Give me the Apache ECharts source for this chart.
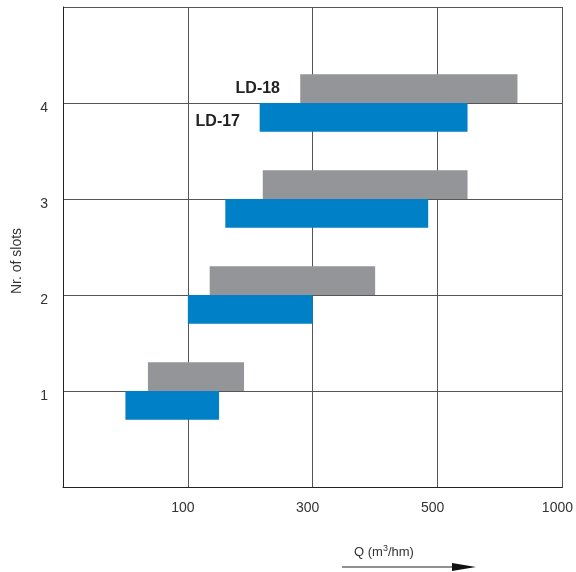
<!DOCTYPE html>
<html>
<head>
<meta charset="utf-8">
<script src="https://cdn.jsdelivr.net/npm/echarts@6/dist/echarts.min.js"></script>
<style>html,body{margin:0;padding:0;background:#fff}#c{width:576px;height:572px}</style>
</head>
<body>
<div id="c"></div>
<script>
// Data (Q in m3/hm)
const slots = [1, 2, 3, 4];
const ld17Start = [50, 100, 160, 215];
const ld17End = [150, 300, 485, 620];
const ld18Start = [68, 135, 220, 280];
const ld18End = [190, 400, 620, 820];
const qTicks = [0, 100, 300, 500, 1000];
const qTickLabels = ['', '100', '300', '500', '1000'];

// Q -> axis position (axis is evenly spaced between tick values)
function qToPos(q) {
  for (let i = 0; i < qTicks.length - 1; i++) {
    if (q <= qTicks[i + 1]) return i + (q - qTicks[i]) / (qTicks[i + 1] - qTicks[i]);
  }
  return qTicks.length - 1;
}

const BAR_H = 0.3;
const blue = '#0080c6', gray = '#939598';

function makeSeries(name, starts, ends, color, above) {
  return {
    type: 'custom', name: name, z: 5,
    encode: { x: [0, 1], y: 2 },
    data: slots.map((s, i) => [qToPos(starts[i]), qToPos(ends[i]), s]),
    renderItem: function (params, api) {
      const y0 = api.value(2), y1 = above ? y0 + BAR_H : y0 - BAR_H;
      const p0 = api.coord([api.value(0), Math.max(y0, y1)]);
      const p1 = api.coord([api.value(1), Math.min(y0, y1)]);
      return { type: 'rect', shape: { x: p0[0], y: p0[1], width: p1[0] - p0[0], height: p1[1] - p0[1] }, style: { fill: color } };
    }
  };
}

const chart = echarts.init(document.getElementById('c'));
chart.setOption({
  animation: false,
  grid: { left: 63, right: 11, top: 7, bottom: 85 },
  xAxis: {
    type: 'value', min: 0, max: qTicks.length - 1, interval: 1,
    axisLine: { show: true, lineStyle: { color: '#222', width: 1 } },
    axisTick: { show: false },
    axisLabel: { margin: 14, padding: [0, 10, 0, 0], color: '#333', fontSize: 14, fontFamily: 'Liberation Sans, Arial, sans-serif',
      formatter: v => qTickLabels[v] || '' },
    splitLine: { show: true, lineStyle: { color: '#555', width: 1 } }
  },
  yAxis: {
    type: 'value', min: 0, max: 5, interval: 1,
    axisLine: { show: true, lineStyle: { color: '#222', width: 1 } },
    axisTick: { show: false },
    axisLabel: { margin: 15, verticalAlign: 'top', lineHeight: 10, color: '#333', fontSize: 14, fontFamily: 'Liberation Sans, Arial, sans-serif',
      formatter: v => (v >= 1 && v <= 4) ? String(v) : '' },
    splitLine: { show: true, lineStyle: { color: '#555', width: 1 } }
  },
  series: [
    makeSeries('LD-17', ld17Start, ld17End, blue, false),
    makeSeries('LD-18', ld18Start, ld18End, gray, true)
  ],
  graphic: [
    { type: 'text', x: 17, y: 261, rotation: Math.PI / 2, z: 10,
      style: { text: 'Nr. of slots', fill: '#333', font: '14px Liberation Sans, Arial, sans-serif', textAlign: 'center', textVerticalAlign: 'middle' } },
    { type: 'text', x: 280, y: 89, z: 10,
      style: { text: 'LD-18', fill: '#222', font: 'bold 16px Liberation Sans, Arial, sans-serif', textAlign: 'right', textVerticalAlign: 'middle' } },
    { type: 'text', x: 240, y: 122, z: 10,
      style: { text: 'LD-17', fill: '#222', font: 'bold 16px Liberation Sans, Arial, sans-serif', textAlign: 'right', textVerticalAlign: 'middle' } },
    { type: 'text', x: 384, y: 552, z: 10,
      style: { rich: { n: { fontSize: 13, fontFamily: 'Liberation Sans, Arial, sans-serif', fill: '#333' }, s: { fontSize: 9, fontFamily: 'Liberation Sans, Arial, sans-serif', fill: '#333', verticalAlign: 'top', padding: [0, 0, 6, 0] } },
        text: '{n|Q (m}{s|3}{n|/hm)}', textAlign: 'center', textVerticalAlign: 'middle' } },
    { type: 'line', z: 10, shape: { x1: 342, y1: 567, x2: 455, y2: 567 }, style: { stroke: '#222', lineWidth: 1.2 } },
    { type: 'polygon', z: 10, shape: { points: [[452, 563], [476, 567], [452, 571]] }, style: { fill: '#111' } }
  ]
});
</script>
</body>
</html>
